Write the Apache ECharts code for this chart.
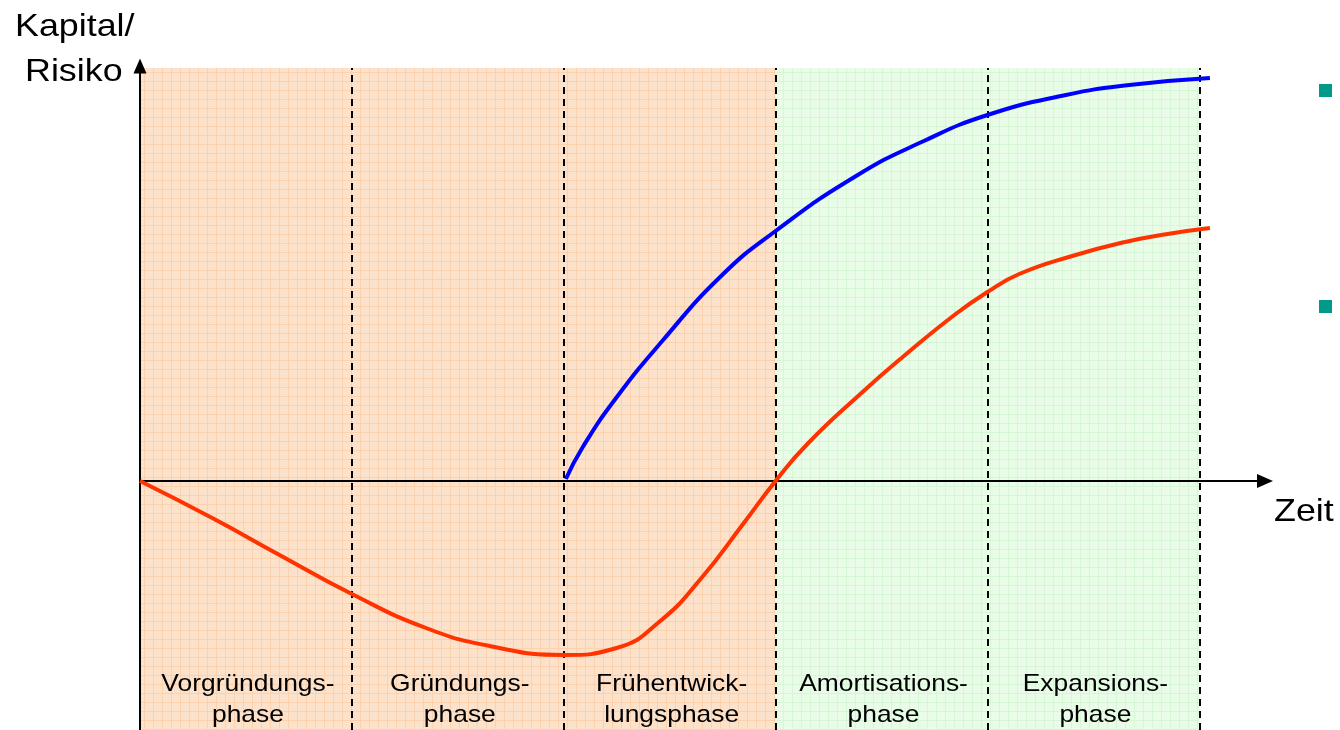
<!DOCTYPE html>
<html><head><meta charset="utf-8">
<script src="https://cdn.jsdelivr.net/npm/echarts@6/dist/echarts.min.js"></script>
<style>html,body{margin:0;padding:0;background:#fff}#c{width:1340px;height:730px}</style>
</head><body><div id="c"></div>
<script>
// ---- data ----
const phaseLine1 = ['Vorgründungs-', 'Gründungs-', 'Frühentwick-', 'Amortisations-', 'Expansions-'];
const phaseLine2 = ['phase', 'phase', 'lungsphase', 'phase', 'phase'];
const phaseBounds = [1, 2, 3, 4, 5];
const riskX = [0, 0.35, 0.65, 1.0, 1.35, 1.65, 2.0, 2.25, 2.45, 2.65, 2.85, 3.0, 3.15, 3.4, 3.6, 3.85, 4.0, 4.15, 4.4, 4.65, 4.85, 5.05];
const riskY = [0, -38, -73, -113, -147, -165, -174, -167, -141, -97, -42, 0, 37, 87, 124, 167, 189, 207, 225, 239, 247, 253];
const capX = [2.01, 2.09, 2.24, 2.465, 2.743, 3.0, 3.38, 3.7, 4.0, 4.37, 4.67, 5.05];
const capY = [2, 34, 81, 140, 205, 250, 305, 340, 366, 386, 396, 403];
const yMin = -249, yMax = 415, areaTop = 413, xMax = 5.31;
const redPhases = [0, 3], greenPhases = [3, 5];

function pattern(base, line) {
  const c = document.createElement('canvas');
  c.width = c.height = 9;
  const g = c.getContext('2d');
  g.fillStyle = base; g.fillRect(0, 0, 9, 9);
  g.fillStyle = line; g.fillRect(0, 0, 9, 1); g.fillRect(0, 0, 1, 9);
  return { image: c, repeat: 'repeat' };
}

const chart = echarts.init(document.getElementById('c'));
const option = {
  animation: false,
  backgroundColor: '#fff',
  grid: { left: 140, right: 75, top: 66, bottom: 0 },
  xAxis: {
    type: 'value', min: 0, max: xMax, z: 5,
    axisLine: { onZero: true, symbol: ['none', 'triangle'], symbolSize: [14, 16], lineStyle: { color: '#000', width: 2 } },
    axisTick: { show: false }, axisLabel: { show: false }, splitLine: { show: false }
  },
  yAxis: {
    type: 'value', min: yMin, max: yMax, z: 5,
    axisLine: { show: true, symbol: ['none', 'triangle'], symbolSize: [13, 15], lineStyle: { color: '#000', width: 2 } },
    axisTick: { show: false }, axisLabel: { show: false }, splitLine: { show: false }
  },
  series: [
    {
      type: 'line', data: [], z: 1, silent: true,
      markArea: {
        silent: true,
        data: [
          [{ coord: [redPhases[0], yMin], itemStyle: { color: pattern('#FDE2CB', '#FCD2AE') } }, { coord: [redPhases[1], areaTop] }],
          [{ coord: [greenPhases[0], yMin], itemStyle: { color: pattern('#E8FCE8', '#D6F6D6') } }, { coord: [greenPhases[1], areaTop] }]
        ]
      },
      markLine: {
        silent: true, symbol: 'none', label: { show: false },
        lineStyle: { type: [7, 5], color: '#000', width: 2 },
        data: phaseBounds.map(x => [{ coord: [x, yMin] }, { coord: [x, areaTop] }])
      }
    },
    {
      name: 'Kapital', type: 'line', z: 6, showSymbol: false, smooth: 0.5,
      lineStyle: { color: '#0000FF', width: 4 },
      data: capX.map((x, i) => [x, capY[i]])
    },
    {
      name: 'Risiko', type: 'line', z: 6, showSymbol: false, smooth: 0.5,
      lineStyle: { color: '#FF3300', width: 4 },
      data: riskX.map((x, i) => [x, riskY[i]])
    }
  ]
};
chart.setOption(option);

const font = '"Liberation Sans", Arial, sans-serif';
const g = [];
function txt(text, x, y, size, align, sx) {
  g.push({ type: 'text', x: x, y: y, scaleX: sx, z: 20,
    style: { text: text, font: size + 'px ' + font, fill: '#000', textAlign: align, textVerticalAlign: 'middle', verticalAlign: 'middle' } });
}
txt('Kapital/', 15, 27, 32, 'left', 1.12);
txt('Risiko', 25, 72, 32, 'left', 1.12);
txt('Zeit', 1274, 512, 32, 'left', 1.12);
phaseLine1.forEach((t, i) => {
  const px = chart.convertToPixel({ gridIndex: 0 }, [i + 0.5, 0])[0];
  txt(t, px + 2, 684, 24, 'center', 1.1);
  txt(phaseLine2[i], px + 2, 715, 24, 'center', 1.1);
});
g.push({ type: 'rect', shape: { x: 1319, y: 84, width: 13, height: 13 }, style: { fill: '#009A8A' } });
g.push({ type: 'rect', shape: { x: 1319, y: 300, width: 13, height: 13 }, style: { fill: '#009A8A' } });
chart.setOption({ graphic: g });
</script>
</body></html>
